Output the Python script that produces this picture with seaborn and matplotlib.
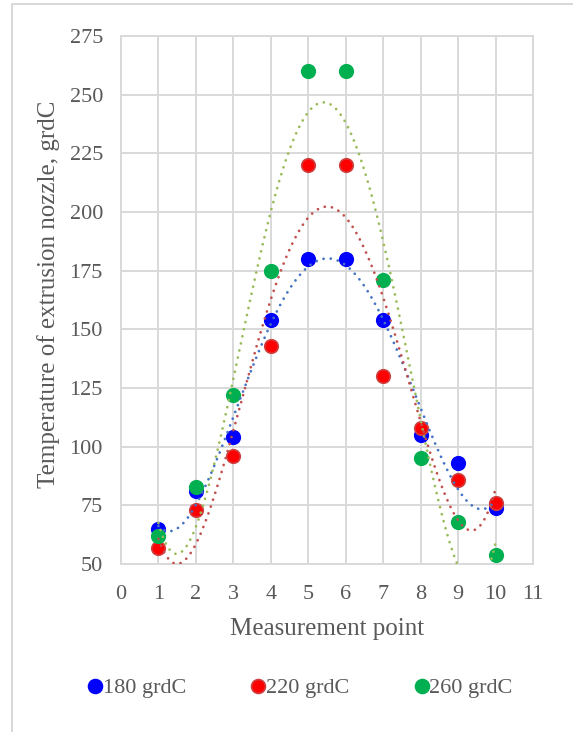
import numpy as np
import pandas as pd
import seaborn as sns
import matplotlib
matplotlib.use("Agg")
import matplotlib.pyplot as plt
from matplotlib.patches import Rectangle
from matplotlib.lines import Line2D

points = [1, 2, 3, 4, 5, 6, 7, 8, 9, 10]
t180 = [65, 81, 104, 154, 180, 180, 154, 105, 93, 74]
t220 = [57, 73, 96, 143, 220, 220, 130, 108, 86, 76]
t260 = [62, 83, 122, 175, 260, 260, 171, 95, 68, 54]
series_names = ["180 grdC", "220 grdC", "260 grdC"]
marker_colors = ["#0000FF", "#FF0000", "#00B050"]
edge_colors = ["#0000FF", "#D04040", "#00B050"]
trend_colors = ["#4472C4", "#C0504D", "#9BBB59"]
x_ticks = list(range(0, 12))
y_ticks = list(range(50, 276, 25))

sns.set_theme(style="white")
plt.rcParams['font.family'] = ['Liberation Serif', 'DejaVu Serif']

fig = plt.figure(figsize=(5.73, 7.32), dpi=100)
ax = fig.add_axes([121/573, 1 - 564/732, (533-121)/573, (564-36)/732])

df = pd.DataFrame({
    "point": points * 3,
    "temp": t180 + t220 + t260,
    "series": sum([[n] * len(points) for n in series_names], []),
})

for name, vals, mc, ec, tc in zip(series_names, [t180, t220, t260], marker_colors, edge_colors, trend_colors):
    sub = df[df["series"] == name]
    sns.scatterplot(data=sub, x="point", y="temp", color=mc, edgecolor=ec, linewidth=1.2,
                    s=95, ax=ax, zorder=3, legend=False)
    coef = np.polyfit(points, vals, 4)
    xs = np.linspace(min(points), max(points), 300)
    trend = pd.DataFrame({"x": xs, "y": np.polyval(coef, xs)})
    sns.lineplot(data=trend, x="x", y="y", ax=ax, color=tc, linewidth=2.0,
                 dashes=False, zorder=4, legend=False)
    ax.lines[-1].set_linestyle((0, (0.01, 2.6)))
    ax.lines[-1].set_dash_capstyle('round')

ax.set_xlim(0, 11)
ax.set_ylim(50, 275)
ax.set_xticks(x_ticks)
ax.set_yticks(y_ticks)
ax.grid(True, color="#D9D9D9", linewidth=1.4)
ax.set_axisbelow(True)
for s in ax.spines.values():
    s.set_color("#D9D9D9")
    s.set_linewidth(1.4)
ax.tick_params(axis="y", length=0, labelsize=16, labelcolor="#595959", pad=13)
ax.tick_params(axis="x", length=0, labelsize=16, labelcolor="#595959", pad=15)
ax.set_xlabel("Measurement point", fontsize=18, color="#595959", labelpad=10)
ax.set_ylabel("Temperature of extrusion nozzle, grdC", fontsize=18, color="#595959", labelpad=7)
ax.yaxis.label.set_y(0.51)

handles = [Line2D([0], [0], marker="o", linestyle="none", markersize=10,
                  markerfacecolor=mc, markeredgecolor=ec, markeredgewidth=1.2)
           for mc, ec in zip(marker_colors, edge_colors)]
fig.legend(handles, series_names, loc="center", bbox_to_anchor=(300/573, 1 - 688/732), ncol=3,
           frameon=False, fontsize=16, labelcolor="#595959", handlelength=0.7,
           handletextpad=0.0, columnspacing=2.9)

fig.add_artist(Rectangle((12/573, -0.1), 1.0, (732-4)/732 + 0.1, transform=fig.transFigure,
                         fill=False, edgecolor="#D9D9D9", linewidth=1.5, clip_on=False))

fig.savefig("out.png", dpi=100)
